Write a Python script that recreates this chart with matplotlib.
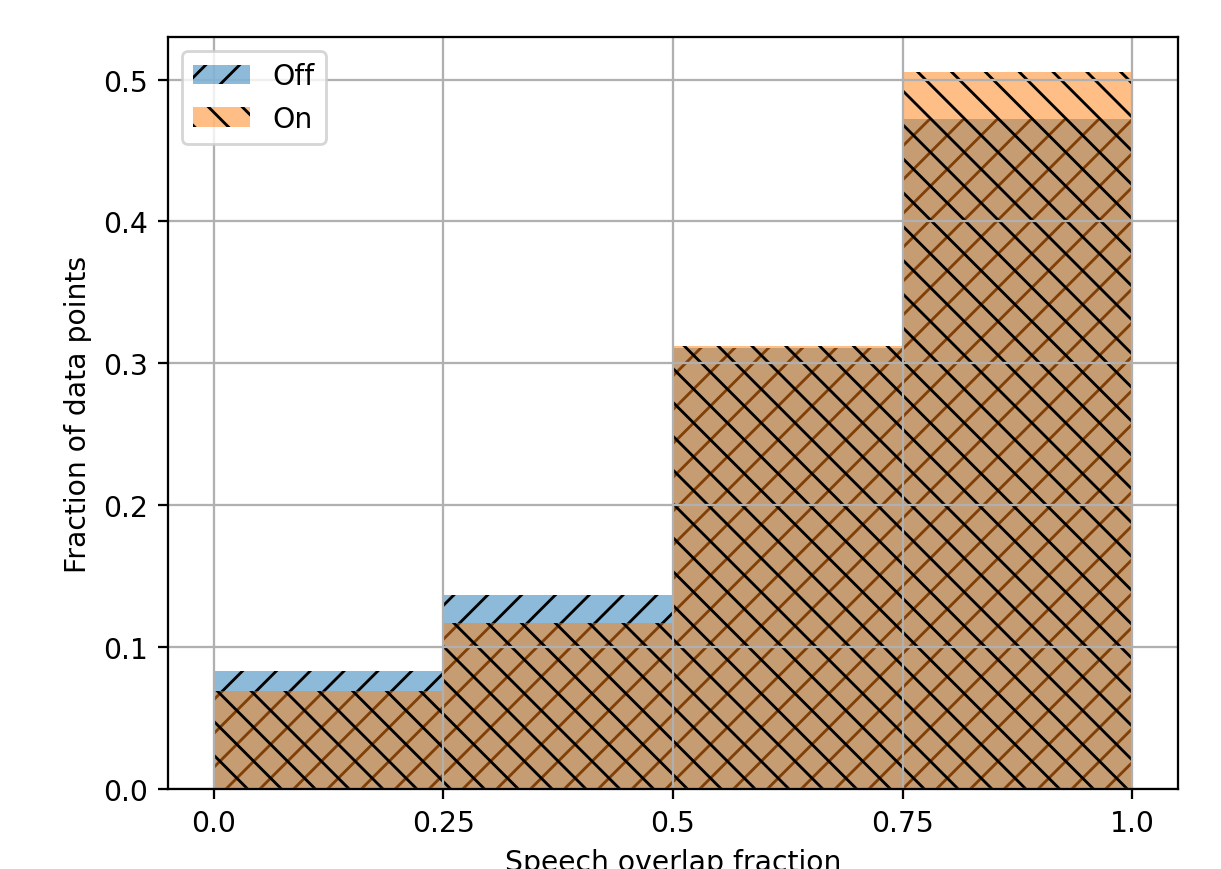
import matplotlib
matplotlib.use("Agg")
import matplotlib.pyplot as plt
import numpy as np

bin_edges = [0.0, 0.25, 0.5, 0.75]
bin_width = 0.25
off_values = [0.083, 0.137, 0.311, 0.472]
on_values = [0.069, 0.117, 0.312, 0.505]
xtick_values = [0.0, 0.25, 0.5, 0.75, 1.0]
xtick_labels = ["0.0", "0.25", "0.5", "0.75", "1.0"]

plt.rcParams["hatch.linewidth"] = 1.0

dpi = 203.5
fig = plt.figure(figsize=(1221 / dpi, 870 / dpi), dpi=dpi)
ax = fig.add_axes([168 / 1221, 80 / 870, (1178 - 168) / 1221, (790 - 38) / 870])

ax.bar(bin_edges, off_values, width=bin_width, align="edge", alpha=0.5,
       hatch="//", color="C0", label="Off", linewidth=0)
ax.bar(bin_edges, on_values, width=bin_width, align="edge", alpha=0.5,
       hatch="\\\\", color="C1", label="On", linewidth=0)

ax.set_xticks(xtick_values)
ax.set_xticklabels(xtick_labels)
ax.set_ylim(0, 0.53)
ax.grid(True)
ax.legend(loc="upper left")
ax.set_xlabel("Speech overlap fraction")
ax.set_ylabel("Fraction of data points")

fig.savefig("out.png", dpi=dpi)
